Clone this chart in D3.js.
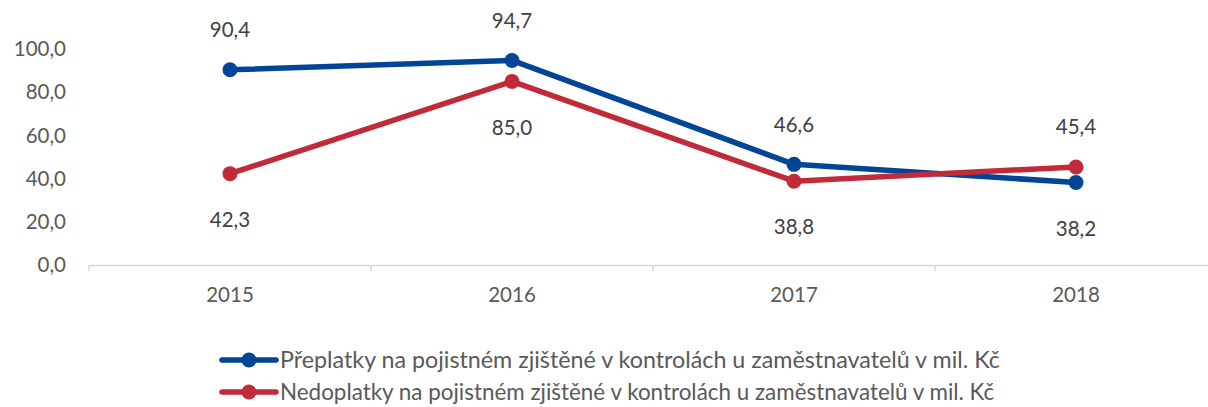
<!DOCTYPE html>
<html><head><meta charset="utf-8">
<script src="https://cdn.jsdelivr.net/npm/d3@7"></script>
<style>body{margin:0;background:#fff}svg{display:block}text{font-family:Lato,"Open Sans",sans-serif}</style>
</head><body><svg id="c" width="1208" height="407"></svg>
<script>
const years = ["2015","2016","2017","2018"];
const preplatky = [90.4, 94.7, 46.6, 38.2];
const nedoplatky = [42.3, 85.0, 38.8, 45.4];
const yTicks = [0,20,40,60,80,100];
const seriesNames = ["Přeplatky na pojistném zjištěné v kontrolách u zaměstnavatelů v mil. Kč","Nedoplatky na pojistném zjištěné v kontrolách u zaměstnavatelů v mil. Kč"];
const preplatkyLabelPos = ["above","above","above","below"];
const nedoplatkyLabelPos = ["below","below","below","above"];

const svg = d3.select("#c");
const x = d3.scaleBand().domain(years).range([89, 1217]);
const y = d3.scaleLinear().domain([0,100]).range([265, 49]);
const fmt = v => d3.format(".1f")(v).replace(".", ",");

// y tick labels
svg.append("g").selectAll("text").data(yTicks).join("text")
  .attr("x", 66).attr("y", d => y(d)).attr("dy","0.35em").attr("text-anchor","end")
  .attr("font-size", 20.5).attr("fill","#595959").text(fmt);

// x axis
const xa = svg.append("g").attr("transform","translate(0,265)")
  .call(d3.axisBottom(x).tickSizeInner(0).tickSizeOuter(0).tickFormat(""));
xa.select(".domain").attr("stroke","#d9d9d9").attr("stroke-width",1.5);
xa.selectAll(".tick").remove();
const bounds = [89].concat(years.map(d => x(d) + x.bandwidth()));
svg.append("g").selectAll("line").data(bounds).join("line")
  .attr("x1", d=>d).attr("x2", d=>d).attr("y1",265).attr("y2",271)
  .attr("stroke","#d9d9d9").attr("stroke-width",1.5);
svg.append("g").selectAll("text").data(years).join("text")
  .attr("x", d => x(d) + x.bandwidth()/2).attr("y", 295).attr("dy","0.35em")
  .attr("text-anchor","middle").attr("font-size",20.5).attr("fill","#595959").text(d=>d);

const series = [
  {vals: preplatky, color:"#024597", pos: preplatkyLabelPos},
  {vals: nedoplatky, color:"#C12A39", pos: nedoplatkyLabelPos}
];
const cx = (d,i) => x(years[i]) + x.bandwidth()/2;
const line = d3.line().x(cx).y(d => y(d));
series.forEach(s => {
  svg.append("path").datum(s.vals).attr("d", line).attr("fill","none")
    .attr("stroke", s.color).attr("stroke-width", 5.5).attr("stroke-linejoin","round");
});
series.forEach(s => {
  svg.append("g").selectAll("circle").data(s.vals).join("circle")
    .attr("cx", cx).attr("cy", d => y(d)).attr("r", 7.5).attr("fill", s.color);
  svg.append("g").selectAll("text").data(s.vals).join("text")
    .attr("x", cx).attr("y", (d,i) => y(d) + (s.pos[i]==="above" ? -40 : 46))
    .attr("dy","0.35em").attr("text-anchor","middle").attr("font-size",20.5).attr("fill","#404040")
    .text(fmt);
});

// legend
const lg = svg.append("g");
series.forEach((s,i) => {
  const ly = 360 + i*32;
  lg.append("line").attr("x1",222).attr("x2",276).attr("y1",ly).attr("y2",ly)
    .attr("stroke", s.color).attr("stroke-width",5.5).attr("stroke-linecap","round");
  lg.append("circle").attr("cx",249).attr("cy",ly).attr("r",7.5).attr("fill",s.color);
  const t = lg.append("text").attr("x",280).attr("y",ly).attr("dy","0.35em")
    .attr("font-size",19).attr("fill","#595959").text(seriesNames[i]);
  const target = i===0 ? 720 : 715;
  const w = t.node().getComputedTextLength();
  t.attr("font-size", 19*target/w);
});
</script></body></html>
